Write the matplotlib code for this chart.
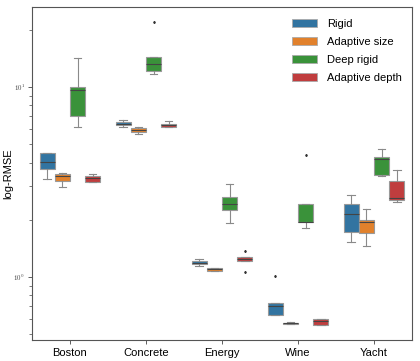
import matplotlib
matplotlib.use("Agg")
import matplotlib.pyplot as plt
from matplotlib.patches import Patch
import numpy as np

plt.rcParams['mathtext.fontset'] = 'cm'
plt.rcParams['font.family'] = ['Liberation Sans', 'DejaVu Sans']

categories = ["Boston", "Concrete", "Energy", "Wine", "Yacht"]
methods = ["Rigid", "Adaptive size", "Deep rigid", "Adaptive depth"]
colors = ["#3274A1", "#E1812C", "#3A923A", "#C03D3E"]

rigid_whislo = [3.27, 6.14, 1.15, 0.629, 1.52]
rigid_q1 = [3.69, 6.31, 1.166, 0.629, 1.73]
rigid_med = [4.02, 6.41, 1.19, 0.703, 2.14]
rigid_q3 = [4.48, 6.52, 1.21, 0.732, 2.41]
rigid_whishi = [4.48, 6.70, 1.24, 0.732, 2.69]
rigid_fliers = [[], [], [], [1.016], []]

asize_whislo = [2.97, 5.68, 1.071, 0.564, 1.456]
asize_q1 = [3.19, 5.82, 1.071, 0.566, 1.71]
asize_med = [3.41, 5.94, 1.098, 0.570, 1.94]
asize_q3 = [3.47, 6.08, 1.115, 0.574, 1.995]
asize_whishi = [3.51, 6.18, 1.115, 0.582, 2.27]
asize_fliers = [[], [], [], [], []]

deep_whislo = [6.15, 11.7, 1.93, 1.82, 3.40]
deep_q1 = [7.03, 12.1, 2.25, 1.94, 3.43]
deep_med = [9.6, 13.2, 2.41, 1.95, 4.18]
deep_q3 = [10.0, 14.4, 2.63, 2.41, 4.27]
deep_whishi = [14.2, 14.4, 3.09, 2.41, 4.70]
deep_fliers = [[], [22.0], [], [4.38], []]

adepth_whislo = [3.16, 6.14, 1.214, 0.559, 2.48]
adepth_q1 = [3.16, 6.18, 1.214, 0.559, 2.54]
adepth_med = [3.33, 6.30, 1.244, 0.586, 2.60]
adepth_q3 = [3.40, 6.37, 1.27, 0.599, 3.20]
adepth_whishi = [3.48, 6.65, 1.27, 0.599, 3.67]
adepth_fliers = [[], [], [1.37, 1.063], [], []]

series = [
    (rigid_whislo, rigid_q1, rigid_med, rigid_q3, rigid_whishi, rigid_fliers),
    (asize_whislo, asize_q1, asize_med, asize_q3, asize_whishi, asize_fliers),
    (deep_whislo, deep_q1, deep_med, deep_q3, deep_whishi, deep_fliers),
    (adepth_whislo, adepth_q1, adepth_med, adepth_q3, adepth_whishi, adepth_fliers),
]

fig = plt.figure(figsize=(4.2, 3.61), dpi=100)
ax = fig.add_axes([0.076, 0.058, 0.905, 0.923])

n_h = len(methods)
bw = 0.8 / n_h
line_c = "#8a8a8a"
for h, (wl, q1, md, q3, wh, fl) in enumerate(series):
    stats = []
    for i in range(len(categories)):
        stats.append(dict(whislo=wl[i], q1=q1[i], med=md[i], q3=q3[i],
                          whishi=wh[i], fliers=fl[i]))
    pos = np.arange(len(categories)) - 0.4 + bw * (h + 0.5)
    ax.bxp(stats, positions=pos, widths=bw * 0.98, patch_artist=True,
           showfliers=True, manage_ticks=False,
           boxprops=dict(facecolor=colors[h], edgecolor="#999999", linewidth=0.8),
           whiskerprops=dict(color=line_c, linewidth=0.8),
           capprops=dict(color=line_c, linewidth=0.8),
           medianprops=dict(color="#444444", linewidth=0.8),
           flierprops=dict(marker="d", markersize=1.0, markerfacecolor="#333333",
                           markeredgecolor="#333333"))

ax.set_yscale("log")
ax.set_ylim(0.466, 26.4)
ax.set_xlim(-0.5, len(categories) - 0.5)
ax.set_xticks(np.arange(len(categories)))
ax.set_xticklabels(categories, fontsize=8)
ax.set_yticks([1, 10])
ax.set_yticklabels([r"$10^{0}$", r"$10^{1}$"], fontsize=5)
ax.tick_params(axis="y", which="major", length=3, width=0.6, colors="#444444", pad=2)
ax.tick_params(axis="y", which="minor", length=2, width=0.5, colors="#444444")
ax.tick_params(axis="x", length=3, width=0.6, color="#444444", pad=3)
ax.set_ylabel("log-RMSE", fontsize=8, labelpad=0)
for s in ax.spines.values():
    s.set_color("#555555")
    s.set_linewidth(0.8)

handles = [Patch(facecolor=c, edgecolor="#aaaaaa", linewidth=0.6) for c in colors]
ax.legend(handles, methods, loc="upper right", frameon=False, fontsize=8,
          handlelength=2.25, handleheight=0.72, labelspacing=0.72,
          handletextpad=0.9, bbox_to_anchor=(1.0, 0.995))

fig.savefig("out.png", dpi=100)
